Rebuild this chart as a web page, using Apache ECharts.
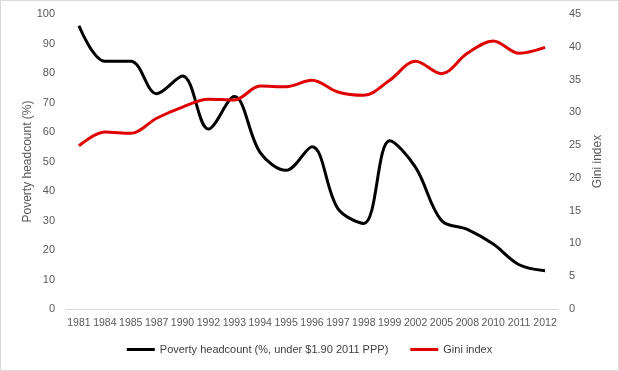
<!DOCTYPE html>
<html><head><meta charset="utf-8">
<script src="https://cdn.jsdelivr.net/npm/echarts@6/dist/echarts.min.js"></script>
<style>html,body{margin:0;padding:0;background:#fff}#c{width:617px;height:369px;border:1px solid #d9d9d9}</style>
</head><body><div id="c"></div>
<script>
const years = ['1981','1984','1985','1987','1990','1992','1993','1994','1995','1996','1997','1998','1999','2002','2005','2008','2010','2011','2012'];
const poverty = [96,84,84,73,79,61,72,53,47,55,34,29,57,48,30,27,22,15,13];
const gini = [24.9,27.0,26.8,29.1,30.8,32.0,31.9,34.0,33.9,34.9,33.1,32.6,34.9,37.8,35.9,39.0,40.9,39.0,39.9];
const leftTicks = {min:0,max:100,interval:10};
const rightTicks = {min:0,max:45,interval:5};

const font = 'Liberation Sans';
const chart = echarts.init(document.getElementById('c'));
chart.setOption({
  animation:false,
  textStyle:{fontFamily:font},
  grid:{left:65,right:60,top:13,bottom:61},
  legend:{
    bottom:10,left:'center',itemWidth:28,itemHeight:3,itemGap:22,icon:'rect',
    textStyle:{fontFamily:font,fontSize:11,color:'#404040'},
    data:['Poverty headcount (%, under $1.90 2011 PPP)','Gini index']
  },
  xAxis:{
    type:'category',data:years,boundaryGap:true,
    axisTick:{show:false},
    axisLine:{lineStyle:{color:'#d9d9d9'}},
    axisLabel:{interval:0,margin:9,fontSize:10.5,color:'#595959',fontFamily:font,hideOverlap:false}
  },
  yAxis:[
    {type:'value',min:leftTicks.min,max:leftTicks.max,interval:leftTicks.interval,
     name:'Poverty headcount (%)',nameLocation:'middle',nameGap:32,nameRotate:90,nameMoveOverlap:false,
     nameTextStyle:{fontSize:12,color:'#595959',fontFamily:font},
     splitLine:{show:false},axisLine:{show:false},axisTick:{show:false},
     axisLabel:{margin:11,fontSize:11,color:'#595959',fontFamily:font}},
    {type:'value',min:rightTicks.min,max:rightTicks.max,interval:rightTicks.interval,position:'right',
     name:'Gini index',nameLocation:'middle',nameGap:34,nameRotate:90,nameMoveOverlap:false,
     nameTextStyle:{fontSize:12,color:'#595959',fontFamily:font},
     splitLine:{show:false},axisLine:{show:false},axisTick:{show:false},
     axisLabel:{margin:11,fontSize:11,color:'#595959',fontFamily:font}}
  ],
  series:[
    {name:'Poverty headcount (%, under $1.90 2011 PPP)',type:'line',yAxisIndex:0,data:poverty,
     smooth:0.35,symbol:'none',lineStyle:{color:'#000',width:3},itemStyle:{color:'#000'}},
    {name:'Gini index',type:'line',yAxisIndex:1,data:gini,
     smooth:0.35,symbol:'none',lineStyle:{color:'#e00000',width:3},itemStyle:{color:'#e00000'}}
  ]
});
</script></body></html>
